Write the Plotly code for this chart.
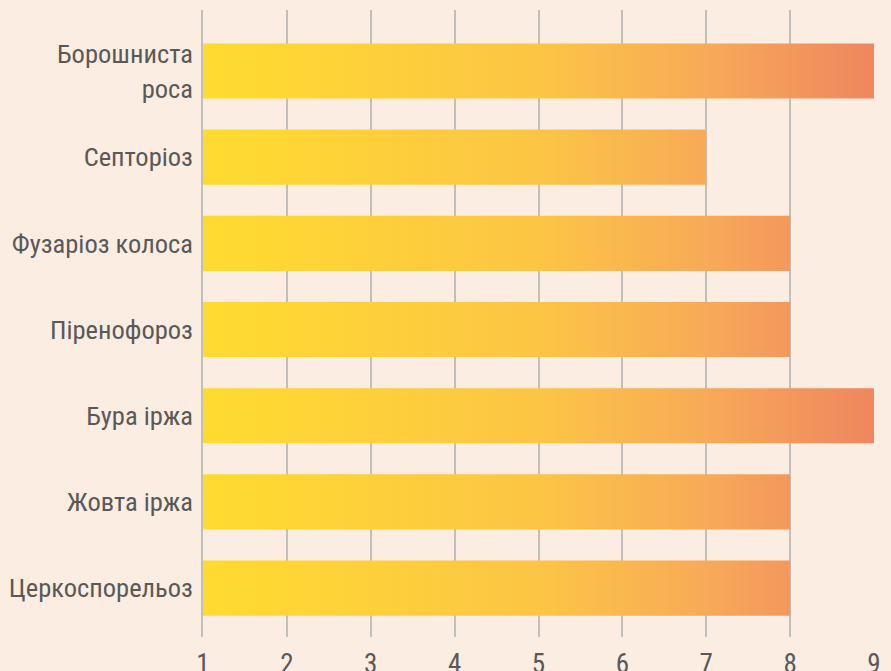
import plotly.graph_objects as go

# Disease resistance scores (1-9 scale), listed top to bottom
diseases = [
    "Борошниста<br>роса",
    "Септоріоз",
    "Фузаріоз колоса",
    "Піренофороз",
    "Бура іржа",
    "Жовта іржа",
    "Церкоспорельоз",
]
scores = [9, 7, 8, 8, 9, 8, 8]
x_ticks = [1, 2, 3, 4, 5, 6, 7, 8, 9]

SCALE_MIN, SCALE_MAX = 1, 9
BAR_HALF = 0.32  # half bar thickness, in category units

gradient = [
    [0.0, "#FFDB30"],
    [0.5, "#FCC545"],
    [0.75, "#F7AA58"],
    [1.0, "#EF865F"],
]
GRID = "#C2BEBA"

# Bars as filled rectangles sharing one horizontal gradient pinned to the 1-9 scale
xs, ys = [], []
for i, v in enumerate(scores):
    xs += [SCALE_MIN, v, v, SCALE_MIN, SCALE_MIN, None]
    ys += [i - BAR_HALF, i - BAR_HALF, i + BAR_HALF, i + BAR_HALF, i - BAR_HALF, None]

fig = go.Figure(
    go.Scatter(
        x=xs,
        y=ys,
        mode="lines",
        line=dict(width=0),
        fill="toself",
        fillgradient=dict(
            type="horizontal",
            colorscale=gradient,
            start=SCALE_MIN,
            stop=SCALE_MAX,
        ),
        hoverinfo="skip",
        showlegend=False,
    )
)

font_family = "Roboto Condensed, Liberation Sans, sans-serif"

fig.update_layout(
    width=891,
    height=671,
    margin=dict(l=203, r=17, t=10, b=34),
    paper_bgcolor="#FBEDE1",
    plot_bgcolor="#FBEDE1",
    font=dict(family=font_family, color="#595959", size=26),
    xaxis=dict(
        range=[SCALE_MIN, SCALE_MAX],
        tickvals=x_ticks,
        showgrid=True,
        gridcolor=GRID,
        gridwidth=1.5,
        zeroline=False,
        showline=False,
        ticks="",
        ticklabelstandoff=8,
        tickfont=dict(size=27),
        automargin=False,
    ),
    yaxis=dict(
        range=[len(scores) - 1 + 0.568, -0.708],
        tickvals=list(range(len(diseases))),
        ticktext=diseases,
        showgrid=False,
        zeroline=False,
        # left axis line doubles as the grid line at score 1
        showline=True,
        linecolor=GRID,
        linewidth=1.5,
        layer="below traces",
        ticks="",
        ticklabelstandoff=3,
        tickfont=dict(size=26.5),
        automargin=False,
    ),
)

fig.write_html("out.html")
